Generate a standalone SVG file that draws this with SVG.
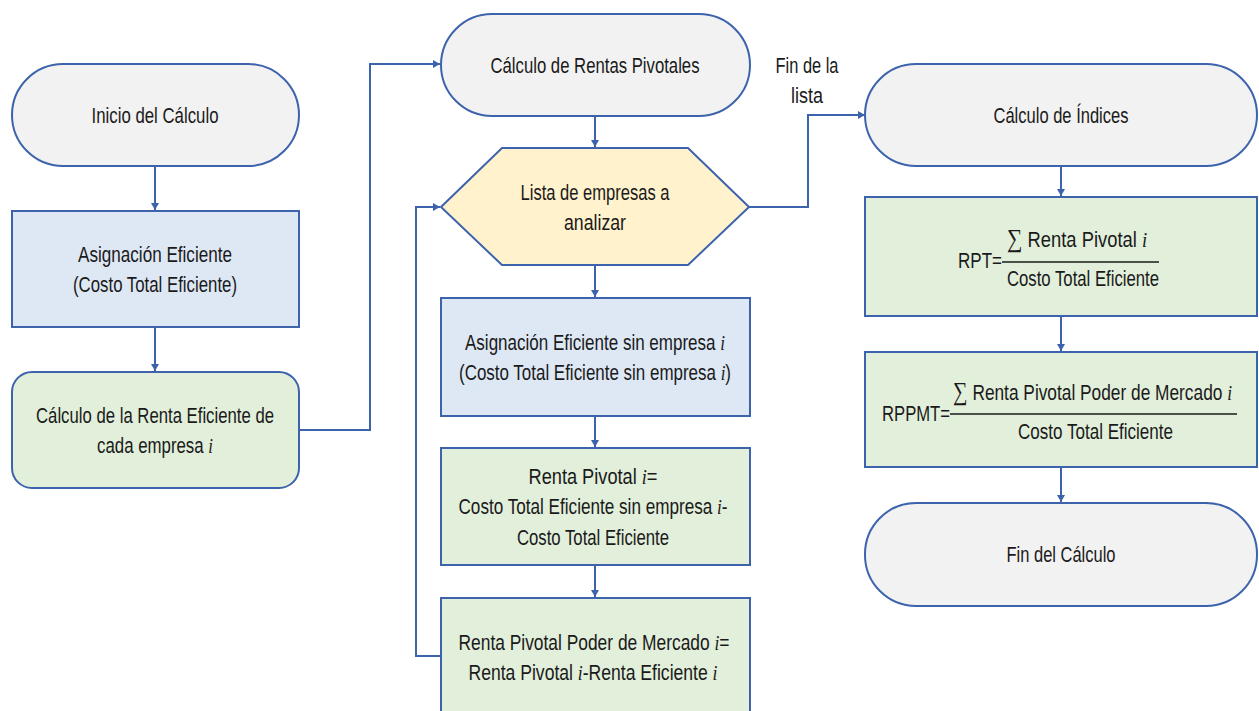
<svg xmlns="http://www.w3.org/2000/svg" width="1259" height="711" viewBox="0 0 1259 711">
<defs>
<marker id="arr" viewBox="0 0 7 8" refX="7" refY="4" markerWidth="7" markerHeight="8" orient="auto" markerUnits="userSpaceOnUse">
<path d="M0,0 L7,4 L0,8 z" fill="#3d63ad"/>
</marker>
<style>
.t{font-family:"Liberation Sans",Arial,sans-serif;font-size:22px;fill:#1a1a1a;text-anchor:middle}
.s{stroke:#3d63ad;stroke-width:2}
.g{fill:#f2f2f2}
.b{fill:#dee8f5}
.gr{fill:#e2efda}
.y{fill:#fff2cc}
.c{fill:none;stroke:#3d63ad;stroke-width:2;marker-end:url(#arr)}
.m{font-family:"Liberation Serif",serif;font-style:italic}
.sum{font-family:"Liberation Serif",serif;font-size:26px}
.st{text-anchor:start}
.fl{stroke:#1a1a1a;stroke-width:1.3}
</style>
</defs>
<rect width="1259" height="711" fill="#ffffff"/>

<g id="connectors">
<line class="c" x1="155" y1="166" x2="155" y2="210"/>
<line class="c" x1="155" y1="327" x2="155" y2="371"/>
<polyline class="c" points="299,430 370,430 370,64 440,64"/>
<line class="c" x1="595" y1="116" x2="595" y2="147"/>
<polyline class="c" points="749,207 808,207 808,115 865,115"/>
<line class="c" x1="595" y1="265" x2="595" y2="297"/>
<line class="c" x1="595" y1="416" x2="595" y2="447"/>
<line class="c" x1="595" y1="565" x2="595" y2="597"/>
<polyline class="c" points="440,656 416,656 416,207 440,207"/>
<line class="c" x1="1061" y1="166" x2="1061" y2="196"/>
<line class="c" x1="1061" y1="316" x2="1061" y2="351"/>
<line class="c" x1="1061" y1="467" x2="1061" y2="502"/>
</g>

<g id="inicio">
<rect class="s g" x="12" y="64" width="287" height="102" rx="51" ry="51"/>
<text class="t" x="155" y="123" textLength="127" lengthAdjust="spacingAndGlyphs">Inicio del Cálculo</text>
</g>

<g id="asignacion">
<rect class="s b" x="12" y="211" width="287" height="116"/>
<text class="t" x="155" y="262" textLength="154" lengthAdjust="spacingAndGlyphs">Asignación Eficiente</text>
<text class="t" x="155" y="292" textLength="164" lengthAdjust="spacingAndGlyphs">(Costo Total Eficiente)</text>
</g>

<g id="renta-eficiente">
<rect class="s gr" x="12" y="372" width="287" height="116" rx="20" ry="20"/>
<text class="t" x="155" y="423" textLength="238" lengthAdjust="spacingAndGlyphs">Cálculo de la Renta Eficiente de</text>
<text class="t" x="155" y="453" textLength="116" lengthAdjust="spacingAndGlyphs">cada empresa <tspan class="m">i</tspan></text>
</g>

<g id="rentas-pivotales">
<rect class="s g" x="441" y="14" width="309" height="102" rx="51" ry="51"/>
<text class="t" x="595" y="73" textLength="209" lengthAdjust="spacingAndGlyphs">Cálculo de Rentas Pivotales</text>
</g>

<g id="fin-lista-label">
<text class="t" x="807" y="73" textLength="63" lengthAdjust="spacingAndGlyphs">Fin de la</text>
<text class="t" x="807" y="103" textLength="32" lengthAdjust="spacingAndGlyphs">lista</text>
</g>

<g id="lista">
<polygon class="s y" points="441,207 502,148 688,148 749,207 688,265 502,265"/>
<text class="t" x="595" y="200" textLength="149" lengthAdjust="spacingAndGlyphs">Lista de empresas a</text>
<text class="t" x="595" y="230" textLength="62" lengthAdjust="spacingAndGlyphs">analizar</text>
</g>

<g id="asignacion-sin">
<rect class="s b" x="441" y="298" width="309" height="118"/>
<text class="t" x="595" y="350" textLength="260" lengthAdjust="spacingAndGlyphs">Asignación Eficiente sin empresa <tspan class="m">i</tspan></text>
<text class="t" x="595" y="380" textLength="272" lengthAdjust="spacingAndGlyphs">(Costo Total Eficiente sin empresa <tspan class="m">i</tspan>)</text>
</g>

<g id="renta-pivotal">
<rect class="s gr" x="441" y="448" width="309" height="117"/>
<text class="t" x="593" y="484" textLength="129" lengthAdjust="spacingAndGlyphs">Renta Pivotal <tspan class="m">i</tspan>=</text>
<text class="t" x="593" y="514" textLength="269" lengthAdjust="spacingAndGlyphs">Costo Total Eficiente sin empresa <tspan class="m">i</tspan>-</text>
<text class="t" x="593" y="545" textLength="152" lengthAdjust="spacingAndGlyphs">Costo Total Eficiente</text>
</g>

<g id="renta-poder">
<rect class="s gr" x="441" y="598" width="309" height="125"/>
<text class="t" x="594" y="650" textLength="271" lengthAdjust="spacingAndGlyphs">Renta Pivotal Poder de Mercado <tspan class="m">i</tspan>=</text>
<text class="t" x="593" y="680" textLength="249" lengthAdjust="spacingAndGlyphs">Renta Pivotal <tspan class="m">i</tspan>-Renta Eficiente <tspan class="m">i</tspan></text>
</g>

<g id="indices">
<rect class="s g" x="865" y="64" width="392" height="102" rx="51" ry="51"/>
<text class="t" x="1061" y="123" textLength="135" lengthAdjust="spacingAndGlyphs">Cálculo de Índices</text>
</g>

<g id="rpt">
<rect class="s gr" x="865" y="197" width="392" height="119"/>
<text class="t st" x="958" y="268" textLength="44" lengthAdjust="spacingAndGlyphs">RPT=</text>
<line class="fl" x1="1002" y1="262" x2="1159" y2="262"/>
<text class="t st" x="1007" y="247" textLength="140" lengthAdjust="spacingAndGlyphs"><tspan class="sum">∑</tspan> Renta Pivotal <tspan class="m">i</tspan></text>
<text class="t st" x="1007" y="286" textLength="152" lengthAdjust="spacingAndGlyphs">Costo Total Eficiente</text>
</g>

<g id="rppmt">
<rect class="s gr" x="865" y="352" width="392" height="115"/>
<text class="t st" x="882" y="421" textLength="68" lengthAdjust="spacingAndGlyphs">RPPMT=</text>
<line class="fl" x1="950" y1="414" x2="1237" y2="414"/>
<text class="t st" x="953" y="400" textLength="279" lengthAdjust="spacingAndGlyphs"><tspan class="sum">∑</tspan> Renta Pivotal Poder de Mercado <tspan class="m">i</tspan></text>
<text class="t st" x="1018" y="439" textLength="155" lengthAdjust="spacingAndGlyphs">Costo Total Eficiente</text>
</g>

<g id="fin">
<rect class="s g" x="865" y="503" width="392" height="103" rx="51" ry="51"/>
<text class="t" x="1061" y="562" textLength="109" lengthAdjust="spacingAndGlyphs">Fin del Cálculo</text>
</g>
</svg>
